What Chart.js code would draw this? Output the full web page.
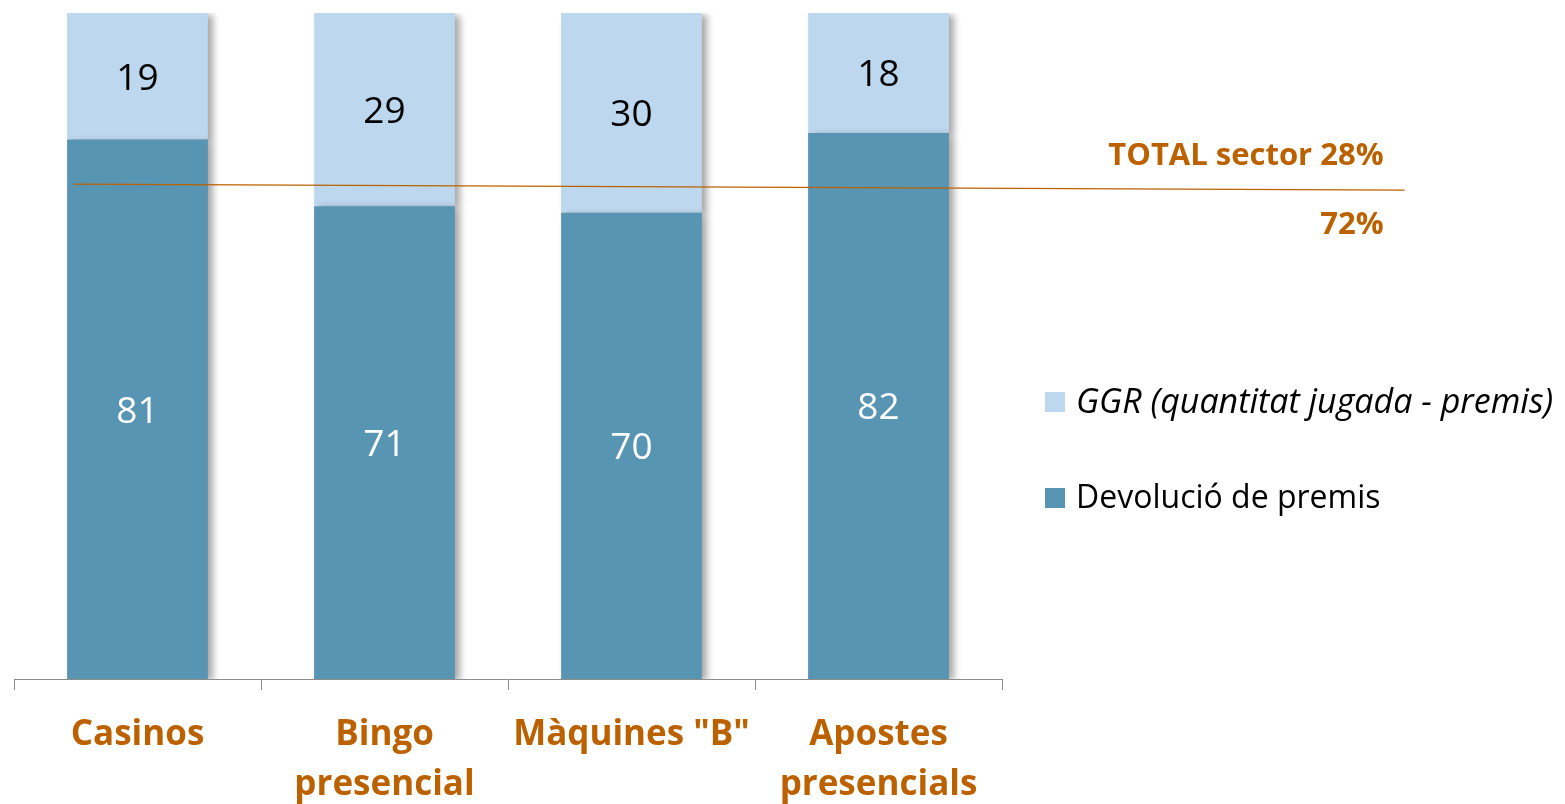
<!DOCTYPE html>
<html lang="ca">
<head>
  <meta charset="UTF-8"/>
  <title>Devolució de premis i GGR</title>
  <script src="https://cdn.jsdelivr.net/npm/chart.js"></script>
  <style>
    html, body { margin: 0; padding: 0; background: #fff; }
    #wrap { width: 1565px; height: 804px; }
  </style>
</head>
<body>
  <div id="wrap"><canvas id="chart" width="1565" height="804"></canvas></div>

  <script>
    const categories = [['Casinos'], ['Bingo', 'presencial'], ['Màquines "B"'], ['Apostes', 'presencials']];
    const premis = [81, 71, 70, 82];   // Devolució de premis
    const ggr = [19, 29, 30, 18];      // GGR (quantitat jugada - premis)
    // total sector line, in category index / percent units
    const totalLineX = [-0.26, 5.13];
    const totalLineY = [74.3, 73.4];
    const totalLabelTop = 'TOTAL sector 28%';
    const totalLabelBottom = '72%';

    const ORANGE = '#bc6100';
    const DARK = '#5895b3';
    const LIGHT = '#bdd7ee';
    const FONT = '"Open Sans", "Noto Sans", sans-serif';

    // soft shadow to the right of the bars
    const barShadow = {
      id: 'barShadow',
      beforeDatasetDraw(chart) {
        const ctx = chart.ctx;
        ctx.save();
        ctx.shadowColor = 'rgba(0,0,0,0.35)';
        ctx.shadowBlur = 7;
        ctx.shadowOffsetX = 5;
        ctx.shadowOffsetY = 2;
      },
      afterDatasetDraw(chart) {
        chart.ctx.restore();
      }
    };

    // values inside the bars, total line, legend
    const extras = {
      id: 'extras',
      afterDatasetsDraw(chart) {
        const ctx = chart.ctx;
        const x = chart.scales.x, y = chart.scales.y;

        ctx.save();
        ctx.font = '37px ' + FONT;
        ctx.textAlign = 'center';
        ctx.textBaseline = 'middle';
        chart.data.datasets.forEach((ds, di) => {
          chart.getDatasetMeta(di).data.forEach((bar, i) => {
            const mid = (bar.y + bar.base) / 2;
            ctx.fillStyle = di === 0 ? '#ffffff' : '#000000';
            ctx.fillText(ds.data[i], bar.x, mid + 3);
          });
        });

        // total sector line
        const x0 = x.getPixelForValue(totalLineX[0]);
        const x1 = x.getPixelForValue(totalLineX[1]);
        const y0 = y.getPixelForValue(totalLineY[0]);
        const y1 = y.getPixelForValue(totalLineY[1]);
        ctx.strokeStyle = ORANGE;
        ctx.lineWidth = 1.3;
        ctx.beginPath();
        ctx.moveTo(x0, y0);
        ctx.lineTo(x1, y1);
        ctx.stroke();

        ctx.fillStyle = ORANGE;
        ctx.font = 'bold 31px ' + FONT;
        ctx.textAlign = 'right';
        ctx.fillText(totalLabelTop, x1 - 21, y1 - 34);
        ctx.fillText(totalLabelBottom, x1 - 21, y1 + 35);

        // legend (GGR on top)
        const items = [
          { text: 'GGR (quantitat jugada - premis)', color: LIGHT, font: 'italic 34px ' },
          { text: 'Devolució de premis', color: DARK, font: '32px ' }
        ];
        const lx = chart.chartArea.right + 43;
        const ly = [402, 498];
        ctx.textAlign = 'left';
        items.forEach((it, k) => {
          ctx.fillStyle = it.color;
          ctx.fillRect(lx, ly[k] - 10, 20, 20);
          ctx.fillStyle = '#000';
          ctx.font = it.font + FONT;
          ctx.fillText(it.text, lx + 31, ly[k] + 1);
        });
        ctx.restore();
      }
    };

    new Chart(document.getElementById('chart'), {
      type: 'bar',
      data: {
        labels: categories,
        datasets: [
          { label: 'Devolució de premis', data: premis, backgroundColor: DARK, barPercentage: 0.57, categoryPercentage: 1 },
          { label: 'GGR (quantitat jugada - premis)', data: ggr, backgroundColor: LIGHT, barPercentage: 0.57, categoryPercentage: 1 }
        ]
      },
      options: {
        responsive: false,
        animation: false,
        layout: { padding: { left: 14, right: 563, top: 13, bottom: 0 } },
        plugins: { legend: { display: false }, tooltip: { enabled: false } },
        scales: {
          x: {
            stacked: true,
            grid: { drawOnChartArea: false, drawTicks: true, tickLength: 11, color: '#8c8c8c', offset: true },
            border: { display: true, color: '#8c8c8c', width: 1 },
            ticks: {
              color: ORANGE,
              font: { family: FONT, size: 35, weight: 'bold', lineHeight: 1.43 },
              padding: 20,
              maxRotation: 0,
              autoSkip: false
            },
            afterFit(scale) { scale.height = 125; }
          },
          y: {
            stacked: true,
            display: false,
            min: 0,
            max: 100
          }
        }
      },
      plugins: [barShadow, extras]
    });
  </script>
</body>
</html>
